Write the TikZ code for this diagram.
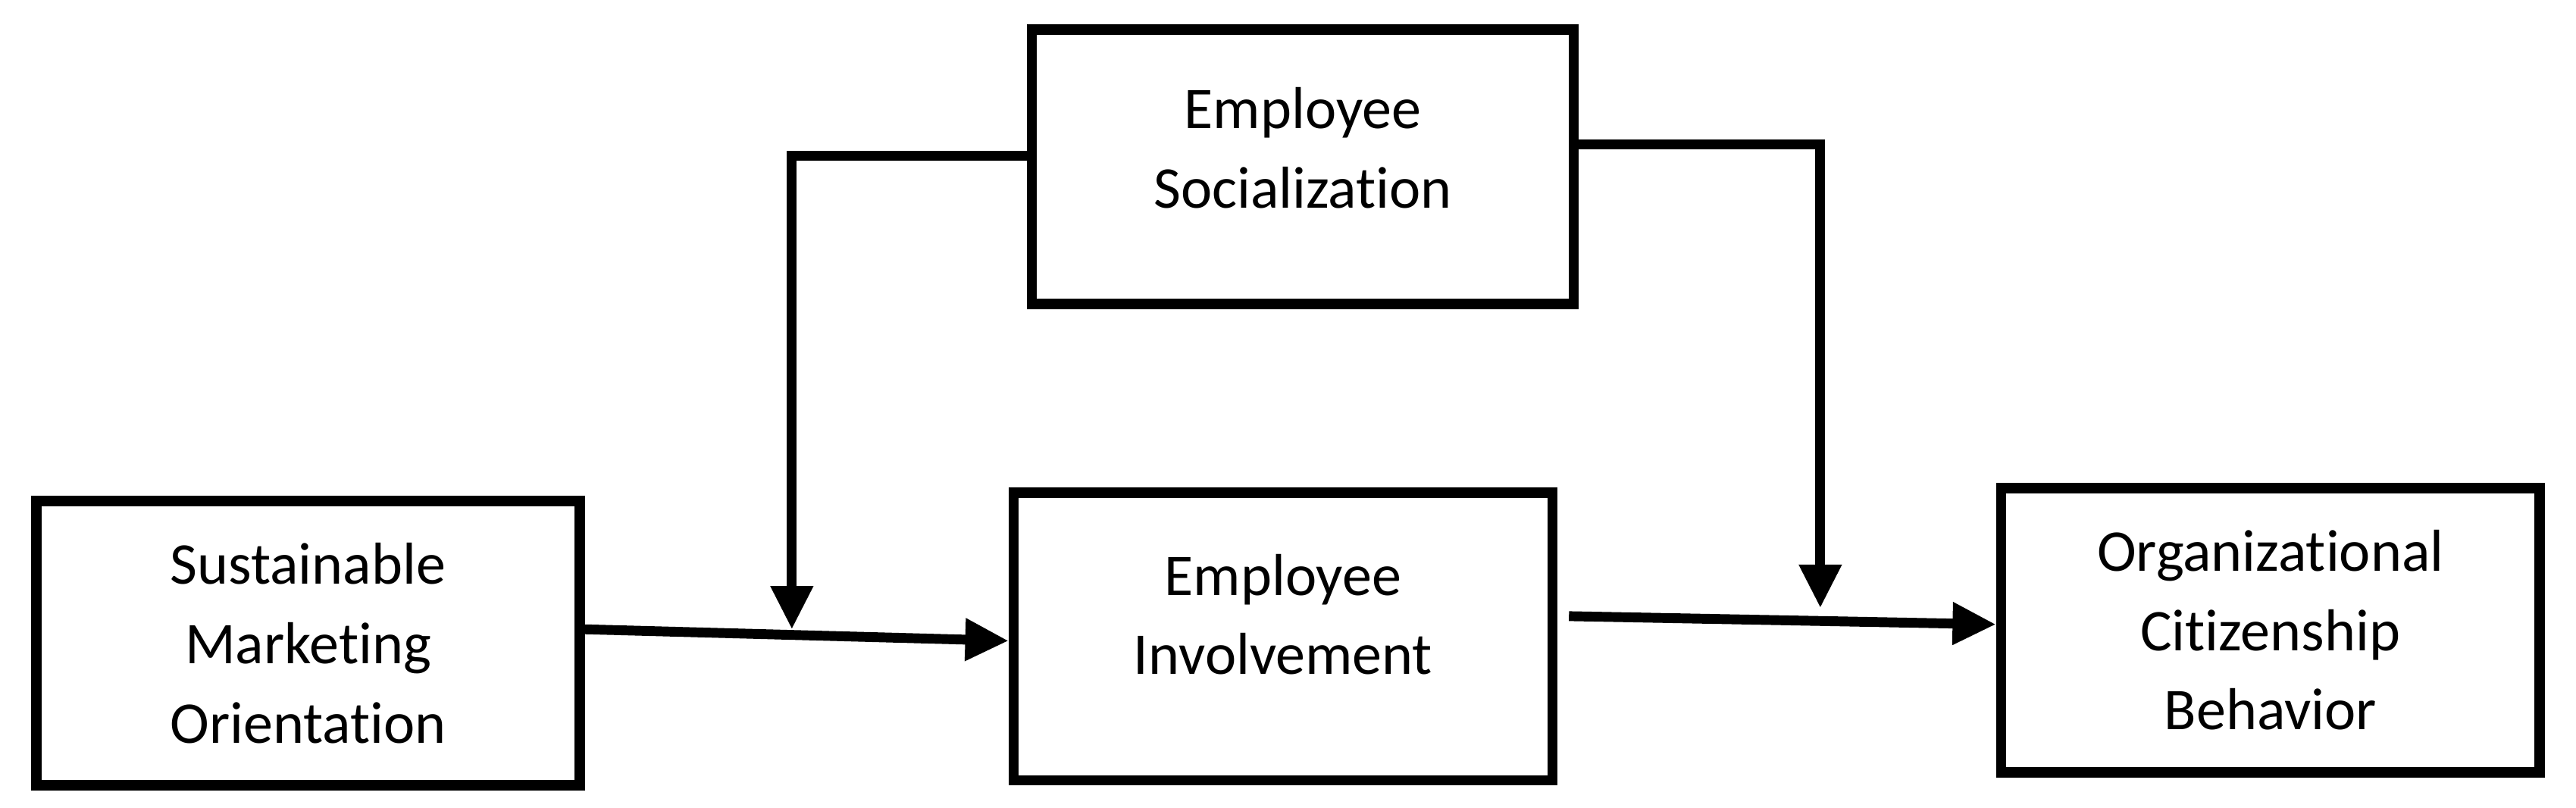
\documentclass[tikz,border=0pt]{standalone}
\usepackage{fontspec}
\setmainfont[Ligatures={NoCommon,NoContextual}]{Carlito}
\usetikzlibrary{arrows.meta}
\begin{document}
\begin{tikzpicture}[x=0.02cm,y=-0.02cm,
  box/.style={draw,line width=3.6pt,align=center,font=\fontsize{20.5}{27.5}\selectfont,inner sep=0pt},
  lbl/.style={align=center,font=\fontsize{20.5}{27.5}\selectfont,inner sep=0pt},
  conn/.style={line width=3.4pt,-{Triangle[length=15pt,width=14pt]}}]
\useasboundingbox (0,0) rectangle (1568,491.7);
\node[box] (smo) at (187.5,391.5) [minimum width=6.62cm,minimum height=3.46cm] {Sustainable\\Marketing\\Orientation};
\node[box] (ei) at (781,387.5) [minimum width=6.56cm,minimum height=3.5cm] {};
\node[lbl] (eit) at (781,374) {Employee\\Involvement};
\node[box] (es) at (793,101.5) [minimum width=6.6cm,minimum height=3.34cm] {};
\node[lbl] (est) at (793,90) {Employee\\Socialization};
\node[box] (ocb) at (1382,383.5) [minimum width=6.56cm,minimum height=3.46cm] {Organizational\\Citizenship\\Behavior};
\coordinate (m1) at (482,383);
\coordinate (m2) at (1108,370);
\coordinate (s2) at (955,375);
\draw[conn] (smo.east |- 0,383) -- (ei.west |- 0,390);
\draw[conn] (s2) -- (ocb.west |- 0,380);
\draw[conn] (es.west |- 0,95) -- (482,95) -- (m1);
\draw[conn] (es.east |- 0,88) -- (1108,88) -- (m2);
\end{tikzpicture}
\end{document}
